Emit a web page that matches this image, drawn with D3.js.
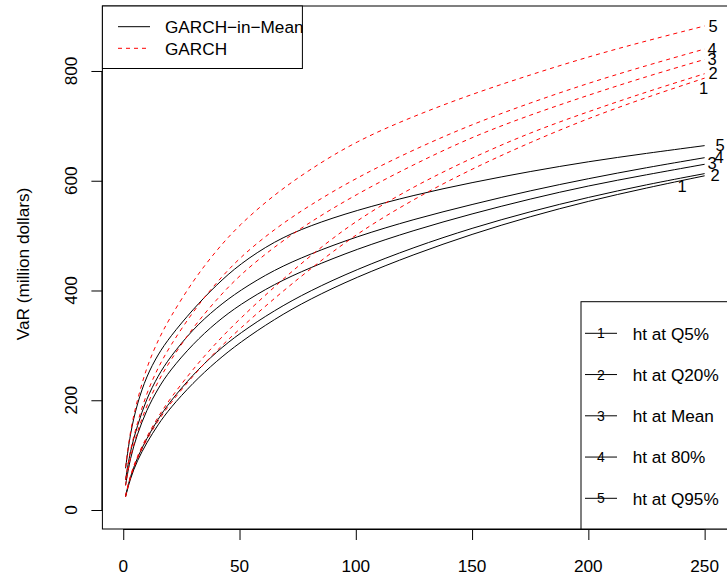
<!DOCTYPE html>
<html><head><meta charset="utf-8">
<script src="https://cdn.jsdelivr.net/npm/d3@7"></script>
<style>
body{margin:0;background:#fff}
text{font-family:"Liberation Sans",Arial,Helvetica,sans-serif;fill:#000}
</style>
</head><body>
<svg id="chart" width="727" height="580"></svg>
<script>
// ---- data ----
const horizons = [1,3,6,10,15,20,30,40,50,65,80,100,125,150,175,200,225,250];

const garchM_Q5   = [24,57,90,122,156,185,232,271,305,348,384,424,466,503,535,563,587,609];
const garchM_Q20  = [26,61,95,130,166,197,247,288,322,364,399,438,479,514,544,570,593,613];
const garchM_Mean = [45,95,138,182,222,254,303,342,374,412,441,475,510,540,567,591,611,630];
const garchM_Q80  = [55,108,153,203,245,278,330,368,400,438,466,498,530,557,582,604,624,642];
const garchM_Q95  = [76,140,194,244,284,315,366,410,448,490,518,546,574,597,617,635,650,664];

const garch_Q5   = [24,60,94,128,163,193,245,290,330,386,438,503,567,622,670,714,752,787];
const garch_Q20  = [26,63,98,133,170,202,257,305,348,407,462,528,590,642,688,726,762,795];
const garch_Mean = [45,97,142,190,235,271,333,383,428,480,524,575,630,680,720,756,790,821];
const garch_Q80  = [55,110,158,213,260,298,362,414,460,512,555,605,657,703,742,778,810,840];
const garch_Q95  = [78,145,200,260,310,350,418,473,520,575,620,672,718,758,793,826,855,882];

const xTicks = [0,50,100,150,200,250];
const yTicks = [0,200,400,600,800];

const seriesLabels = ["1","2","3","4","5"];
// label anchor points (horizon, VaR) for end-of-line numbers
const garchMLabelX = [240.3,254.5,253.2,256.2,256.6];
const garchMLabelY = [590,610,632,643,665];
const garchLabelX  = [249.5,253.6,253.2,253.2,253.6];
const garchLabelY  = [769,796,822,840,882];

const modelNames = ["GARCH\u2212in\u2212Mean","GARCH"];
const horizonNames = ["ht at Q5%","ht at Q20%","ht at Mean","ht at 80%","ht at Q95%"];
const yTitle = "VaR (million dollars)";

// ---- layout ----
const svg = d3.select("#chart");
const W = 727, H = 580;
const plot = {left:102.4, right:727.8, top:6, bottom:529};
const FS = 17.2;

const x = d3.scaleLinear().domain([-8.96, 259.96]).range([plot.left, plot.right]);
const y = d3.scaleLinear().domain([-34.6, 918.4]).range([plot.bottom, plot.top]);

svg.append("rect").attr("width",W).attr("height",H).attr("fill","#fff");

svg.append("clipPath").attr("id","pc").append("rect")
  .attr("x",plot.left).attr("y",plot.top).attr("width",plot.right-plot.left).attr("height",plot.bottom-plot.top);

const line = d3.line().x(d=>x(d[0])).y(d=>y(d[1])).curve(d3.curveBasis);

const gmSeries = [garchM_Q5,garchM_Q20,garchM_Mean,garchM_Q80,garchM_Q95];
const gSeries  = [garch_Q5,garch_Q20,garch_Mean,garch_Q80,garch_Q95];

const g = svg.append("g").attr("clip-path","url(#pc)");
gmSeries.forEach(s=>{
  g.append("path").datum(horizons.map((h,i)=>[h,s[i]]))
   .attr("d",line).attr("fill","none").attr("stroke","#000").attr("stroke-width",1);
});
gSeries.forEach(s=>{
  g.append("path").datum(horizons.map((h,i)=>[h,s[i]]))
   .attr("d",line).attr("fill","none").attr("stroke","#ff0000").attr("stroke-width",1)
   .attr("stroke-dasharray","4,4");
});

// end labels
seriesLabels.forEach((lab,i)=>{
  svg.append("text").attr("x",x(garchMLabelX[i])).attr("y",y(garchMLabelY[i]))
    .attr("dy","0.36em").attr("text-anchor","middle").attr("font-size",16.5).text(lab);
  svg.append("text").attr("x",x(garchLabelX[i])).attr("y",y(garchLabelY[i]))
    .attr("dy","0.36em").attr("text-anchor","middle").attr("font-size",16.5).text(lab);
});

// box
svg.append("rect").attr("x",plot.left).attr("y",plot.top)
  .attr("width",plot.right-plot.left).attr("height",plot.bottom-plot.top)
  .attr("fill","none").attr("stroke","#000").attr("stroke-width",1);

// x axis
const xa = svg.append("g").attr("transform",`translate(0,${plot.bottom})`)
  .call(d3.axisBottom(x).tickValues(xTicks).tickSize(11).tickFormat(""));
xa.select(".domain").attr("d",`M${x(0)},0.5H${x(250)}`).attr("stroke","#000");
xa.selectAll(".tick line").attr("stroke","#000");
xa.selectAll(".tick text").remove();
xTicks.forEach(t=>{
  svg.append("text").attr("x",x(t)).attr("y",571.7).attr("text-anchor","middle")
    .attr("font-size",FS).text(d3.format("d")(t));
});

// y axis
const ya = svg.append("g").attr("transform",`translate(${plot.left},0)`)
  .call(d3.axisLeft(y).tickValues(yTicks).tickSize(11).tickFormat(""));
ya.select(".domain").attr("d",`M-0.5,${y(0)}V${y(800)}`).attr("stroke","#000");
ya.selectAll(".tick line").attr("stroke","#000");
ya.selectAll(".tick text").remove();
yTicks.forEach(t=>{
  svg.append("text").attr("transform",`translate(76.6,${y(t)}) rotate(-90)`)
    .attr("text-anchor","middle").attr("font-size",FS).text(d3.format("d")(t));
});

svg.append("text").attr("transform","translate(29,264) rotate(-90)")
  .attr("text-anchor","middle").attr("font-size",FS).text(yTitle);

// legend 1 (top-left)
const l1 = svg.append("g");
l1.append("rect").attr("x",plot.left).attr("y",plot.top).attr("width",200).attr("height",62.5)
  .attr("fill","#fff").attr("stroke","#000");
const l1y = [26.7,48.3];
modelNames.forEach((n,i)=>{
  l1.append("line").attr("x1",118).attr("x2",150).attr("y1",l1y[i]).attr("y2",l1y[i])
    .attr("stroke", i===0?"#000":"#ff0000").attr("stroke-dasharray", i===0?null:"4,4");
  l1.append("text").attr("x",165).attr("y",l1y[i]+6.3).attr("font-size",FS).text(n);
});

// legend 2 (bottom-right)
const l2 = svg.append("g");
l2.append("rect").attr("x",581).attr("y",301.7).attr("width",160).attr("height",plot.bottom-301.7)
  .attr("fill","#fff").attr("stroke","#000");
horizonNames.forEach((n,i)=>{
  const yy = 333.3 + i*41.25;
  l2.append("line").attr("x1",585).attr("x2",617).attr("y1",yy).attr("y2",yy).attr("stroke","#000");
  l2.append("text").attr("x",601).attr("y",yy).attr("dy","0.36em").attr("text-anchor","middle")
    .attr("font-size",14).text(seriesLabels[i]);
  l2.append("text").attr("x",632.7).attr("y",yy+6.3).attr("font-size",FS).text(n);
});
</script>
</body></html>
